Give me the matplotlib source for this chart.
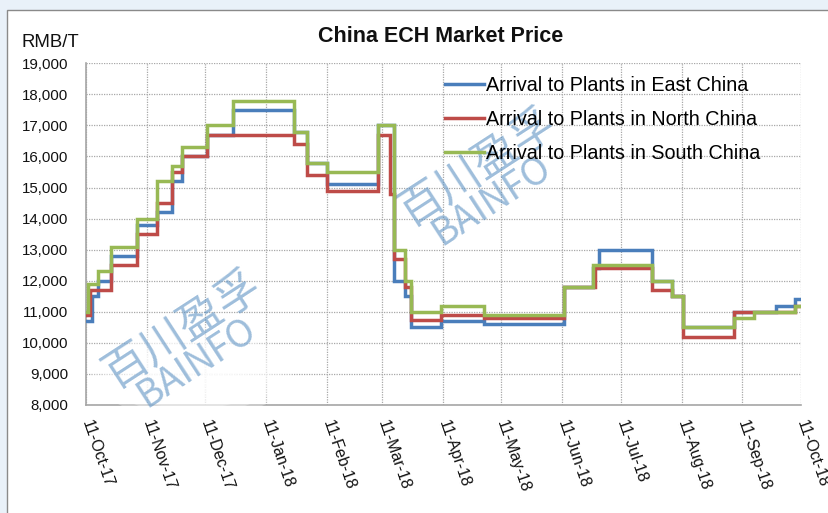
import matplotlib
matplotlib.use("Agg")
import matplotlib.pyplot as plt
import matplotlib.dates as mdates
import pandas as pd
from matplotlib.patches import Rectangle, Ellipse
from matplotlib.ticker import FuncFormatter, MultipleLocator

# price change points; each value holds until the next date
dates = [
    "2017-10-11", "2017-10-12", "2017-10-13", "2017-10-14", "2017-10-17", "2017-10-24",
    "2017-11-06", "2017-11-16", "2017-11-24", "2017-11-29", "2017-12-12", "2017-12-25",
    "2018-01-25", "2018-02-01", "2018-02-11", "2018-03-09", "2018-03-15", "2018-03-17",
    "2018-03-23", "2018-03-26", "2018-04-10", "2018-05-02", "2018-06-12", "2018-06-27",
    "2018-06-28", "2018-06-30", "2018-07-27", "2018-08-06", "2018-08-12", "2018-09-07",
    "2018-09-17", "2018-09-28", "2018-10-08", "2018-10-11",
]
east = [
    10700, 10700, 10700, 11500, 12000, 12800,
    13800, 14200, 15200, 16000, 16700, 17500,
    16800, 15800, 15100, 17000, 17000, 12000,
    11500, 10500, 10700, 10600, 11800, 12400,
    12400, 13000, 12000, 11500, 10500, 11000,
    11000, 11200, 11400, 11400,
]
north = [
    10900, 10900, 11700, 11700, 11700, 12500,
    13500, 14500, 15500, 16000, 16700, 16700,
    16400, 15400, 14900, 16700, 14800, 12700,
    11800, 10750, 10900, 10800, 11800, 11800,
    12400, 12400, 11700, 11500, 10200, 11000,
    11000, 11000, 11200, 11200,
]
south = [
    11000, 11900, 11900, 11900, 12300, 13100,
    14000, 15200, 15700, 16300, 17000, 17800,
    16800, 15800, 15500, 17000, 17000, 13000,
    12000, 11000, 11200, 10900, 11800, 12500,
    12500, 12500, 12000, 11500, 10500, 10800,
    11000, 11000, 11200, 11200,
]
series_names = [
    "Arrival to Plants in East China",
    "Arrival to Plants in North China",
    "Arrival to Plants in South China",
]
series_colors = ["#4a7ebb", "#be4b48", "#98b954"]

W, H = 829, 513
FONT = "Liberation Sans"
WM_FONT = ["Noto Sans CJK SC", "DejaVu Sans"]
plt.rcParams["font.family"] = FONT

fig = plt.figure(figsize=(W / 100, H / 100), dpi=100)
fig.patch.set_facecolor("#e9f1f9")
# white chart box with a grey border, cut off at right/bottom
fig.add_artist(Rectangle((7 / W, -0.02), 1.0, 1 - 10 / H + 0.02, transform=fig.transFigure,
                         facecolor="white", edgecolor="#8a8a8a", lw=1.0, zorder=-1))

ax = fig.add_axes([86 / W, 1 - 405 / H, (801 - 86) / W, (405 - 63.3) / H])
ax.set_facecolor("white")

x = pd.to_datetime(dates)
for vals, name, col in zip([east, north, south], series_names, series_colors):
    ax.step(x, vals, where="post", color=col, lw=2.5, label=name, zorder=3,
            solid_joinstyle="miter")

ax.set_xlim(pd.Timestamp("2017-10-11"), pd.Timestamp("2018-10-11"))
ax.set_ylim(8000, 19000)
ax.yaxis.set_major_locator(MultipleLocator(1000))
ax.yaxis.set_major_formatter(FuncFormatter(lambda v, p: f"{v:,.0f}"))
ax.xaxis.set_major_locator(mdates.MonthLocator(bymonthday=11))
ax.xaxis.set_major_formatter(mdates.DateFormatter("%d-%b-%y"))

ax.grid(True, color="#a8a8a8", lw=0.9, ls=(0, (1, 1)))
ax.set_axisbelow(True)
for s in ["top", "right"]:
    ax.spines[s].set_visible(False)
for s in ["left", "bottom"]:
    ax.spines[s].set_color("#a6a6a6")
    ax.spines[s].set_linewidth(1.2)
ax.tick_params(axis="y", length=0, pad=12.7, labelsize=10.8, labelcolor="#111111")
ax.tick_params(axis="x", length=0, pad=11, labelsize=11.5, labelcolor="#111111")
for lab in ax.get_xticklabels():
    lab.set_rotation(-71)
    lab.set_rotation_mode("anchor")
    lab.set_ha("left")
    lab.set_va("center")

# soft white haze behind the lower-left watermark (covers grid and part of the axis)
for k in range(7):
    f = 1 - k * 0.11
    ax.add_artist(Ellipse((192 / W, 1 - 372 / H), 200 * f / W, 95 * f / H,
                          transform=fig.transFigure, facecolor="white", edgecolor="none",
                          alpha=0.3, zorder=2.6, clip_on=False))

# watermarks
for cx, cy in [(477, 168), (182, 330)]:
    ax.text(cx / W, 1 - cy / H, "百川盈孚", transform=fig.transFigure, rotation=33,
            ha="center", va="center", fontsize=32, family=WM_FONT, color="#5e93c4",
            alpha=0.6, zorder=2.8, clip_on=False)
    ax.text((cx + 15) / W, 1 - (cy + 33) / H, "BAINFO", transform=fig.transFigure,
            rotation=33, ha="center", va="center", fontsize=27, family=WM_FONT,
            color="#5e93c4", alpha=0.6, zorder=2.8, clip_on=False)

fig.text(441 / W, 1 - 36 / H, "China ECH Market Price", ha="center", va="center",
         fontsize=15.5, fontweight="bold", color="#111111")
fig.text(22 / W, 1 - 43 / H, "RMB/T", ha="left", va="center", fontsize=13.4,
         color="#111111")

ax.legend(loc="upper left", bbox_to_anchor=(445 / W, 1 - 76 / H),
          bbox_transform=fig.transFigure, frameon=False, fontsize=14.2,
          handlelength=2.0, handletextpad=0.1, labelspacing=0.77,
          borderpad=0, borderaxespad=0)

fig.savefig("out.png", dpi=100)
